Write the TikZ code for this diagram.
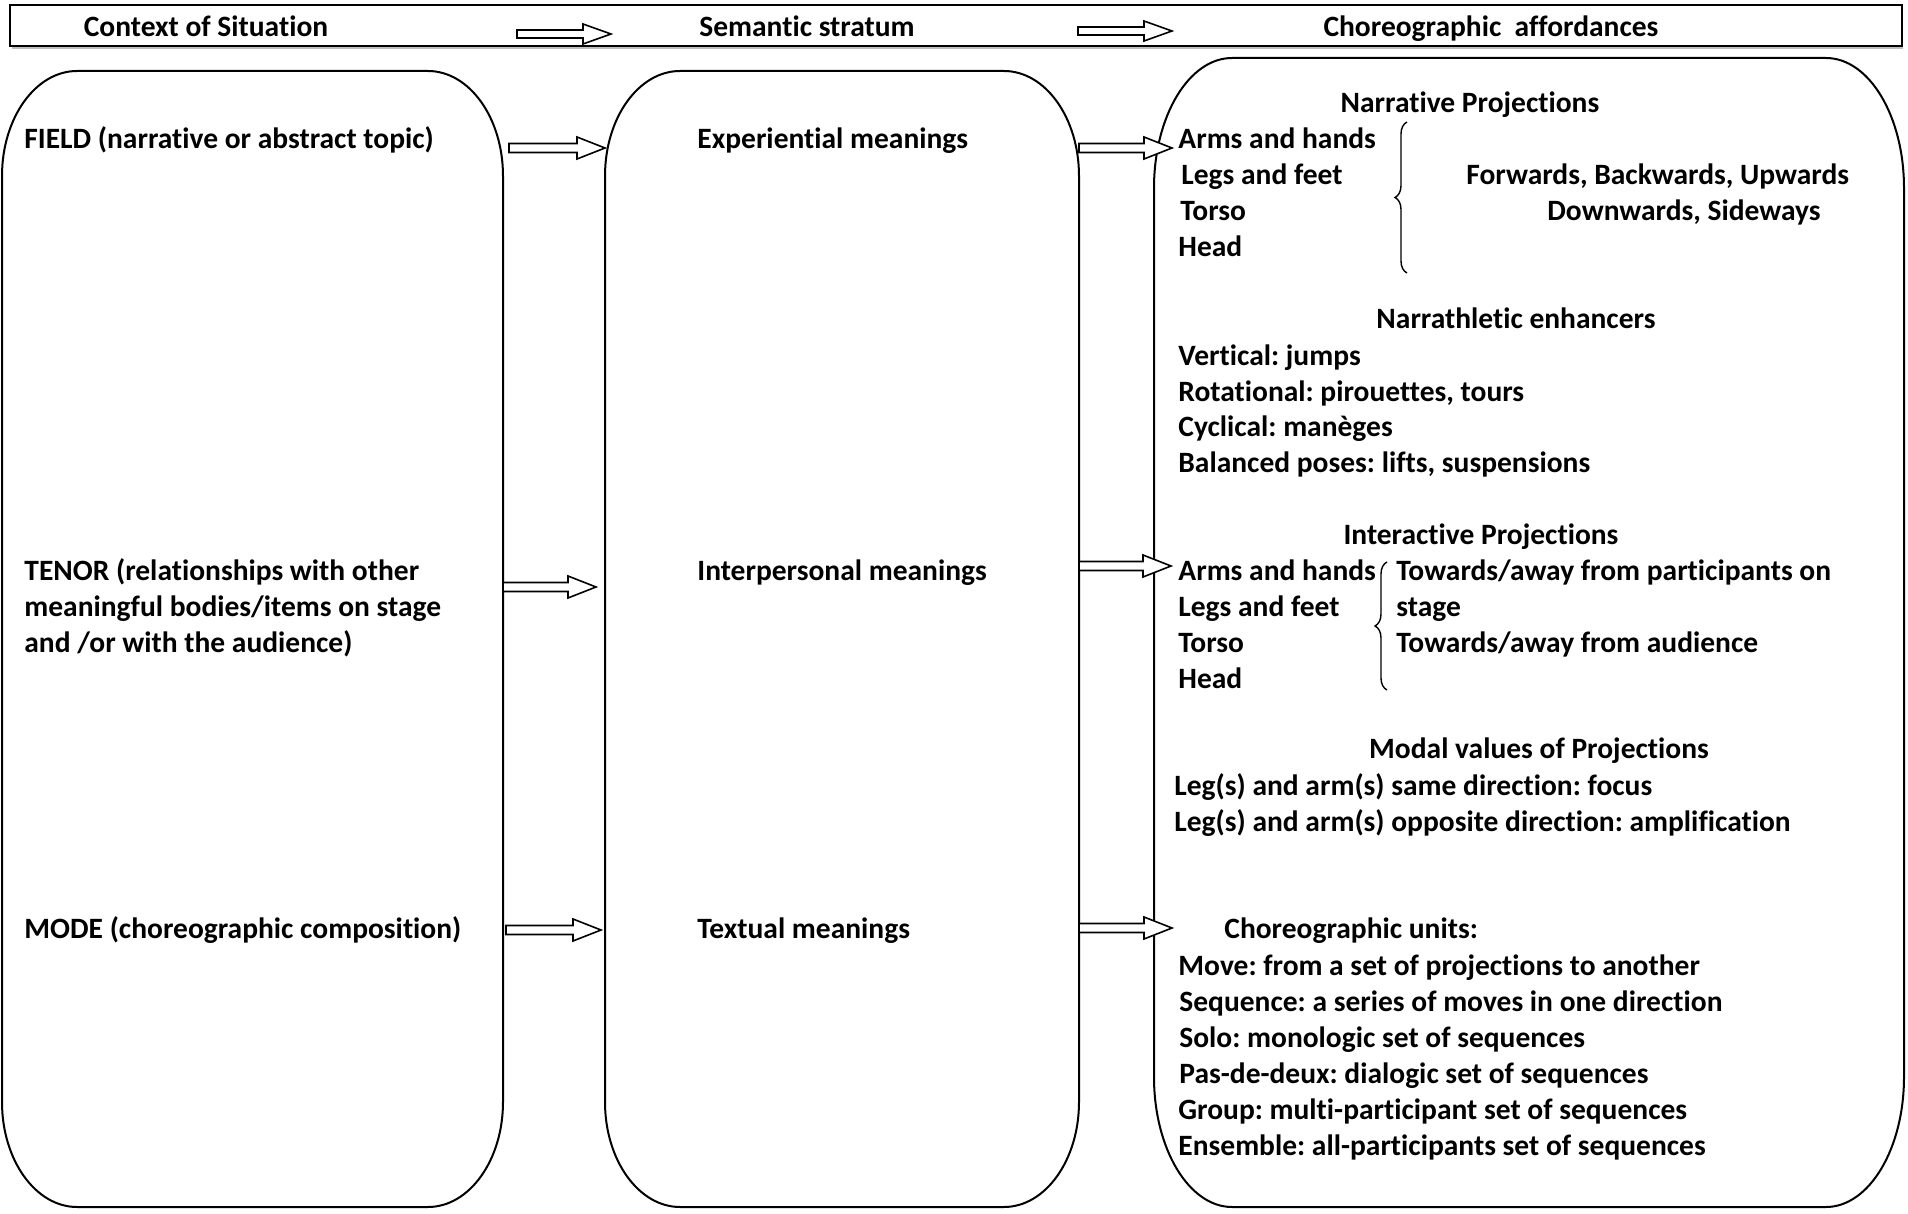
\documentclass[tikz,border=0pt]{standalone}
\usepackage{fontspec}
\setmainfont{Carlito}[Ligatures=NoCommon]
\frenchspacing
\usetikzlibrary{calc,decorations.pathreplacing}

\tikzset{
  texte/.style={anchor=base west, inner sep=0pt, yshift=-1.5pt},
  titre/.style={anchor=base, inner sep=0pt, yshift=-1.5pt},
  cadre/.style={draw=black, line width=1pt},
  fleche/.style={draw=black, fill=white, line width=0.8pt},
  accolade/.style={draw=black, line width=0.7pt, decorate, decoration={brace, amplitude=6pt}},
}

% fleche creuse : depart, arrivee, demi-epaisseur, demi-hauteur de la tete, longueur de la tete
\newcommand{\flechecreuse}[5]{%
  \filldraw[fleche] ($(#1)+(0,-#3)$) -- ($(#2)+(-#5,-#3)$) -- ($(#2)+(-#5,-#4)$) -- (#2)
    -- ($(#2)+(-#5,#4)$) -- ($(#2)+(-#5,#3)$) -- ($(#1)+(0,#3)$) -- cycle;}

% cadre a coins arrondis : gauche, haut, droite, bas, rayon x, rayon y
\newcommand{\cadrearrondi}[6]{%
  \draw[cadre] (#1+#5,#2) -- (#3-#5,#2) arc[start angle=270, end angle=360, x radius=#5, y radius=#6]
    -- (#3,#4-#6) arc[start angle=0, end angle=90, x radius=#5, y radius=#6]
    -- (#1+#5,#4) arc[start angle=90, end angle=180, x radius=#5, y radius=#6]
    -- (#1,#2+#6) arc[start angle=180, end angle=270, x radius=#5, y radius=#6] -- cycle;}

\begin{document}
\begin{tikzpicture}[x=0.5pt, y=-0.5pt, every node/.style={font=\fontsize{14.75}{18}\selectfont\bfseries}]
\useasboundingbox (0,0) rectangle (1908,1214);

% la barre du haut
\draw[gray!50, line width=1.2pt] (12,48) -- (1903,48);%ombre
\draw[cadre, line width=0.8pt, fill=white] (10,5) rectangle (1902,46);
\node[titre] (ctx) at (206,34) {Context of Situation};
\node[titre] (sem) at (807,34) {Semantic stratum};
\node[titre] (aff) at (1491,34) {Choreographic~ affordances};

\coordinate (haut_a_g) at (517,34);
\coordinate (haut_a_d) at (611,34);
\coordinate (haut_b_g) at (1078,31);
\coordinate (haut_b_d) at (1172,31);
\flechecreuse{haut_a_g}{haut_a_d}{4}{10}{28}
\flechecreuse{haut_b_g}{haut_b_d}{4}{10}{28}

% les trois cadres
\cadrearrondi{2}{71}{503}{1207}{75}{105}%contexte
\cadrearrondi{605}{71}{1079}{1207}{75}{105}%semantique
\cadrearrondi{1154}{58}{1904}{1207}{78}{130}%affordances

% cadre de gauche
\node[texte] (field) at (24,146) {FIELD (narrative or abstract topic)};
\node[texte] (tenor_a) at (24,577) {TENOR (relationships with other};
\node[texte] (tenor_b) at (24,613) {meaningful bodies/items on stage};
\node[texte] (tenor_c) at (24,649) {and /or with the audience)};
\node[texte] (mode) at (24,935) {MODE (choreographic composition)};

% cadre du milieu
\node[texte] (exp) at (697,146) {Experiential meanings};
\node[texte] (inter) at (697,577) {Interpersonal meanings};
\node[texte] (textual) at (697,935) {Textual meanings};

% cadre de droite : projections narratives
\node[titre] (narr) at (1470,110) {Narrative Projections};
\node[texte] (narr_bras) at (1178,146) {Arms and hands};
\node[texte] (narr_jambes) at (1181,182) {Legs and feet};
\node[texte] (narr_torse) at (1180,218) {Torso};
\node[texte] (narr_tete) at (1178,254) {Head};
\draw[accolade] (1407,273) -- (1407,122);
\node[texte] (narr_dir_a) at (1466,182) {Forwards, Backwards, Upwards};
\node[texte] (narr_dir_b) at (1547,218) {Downwards, Sideways};

% enhancers
\node[titre] (enh) at (1516,326) {Narrathletic enhancers};
\node[texte] (enh_a) at (1178,362) {Vertical: jumps};
\node[texte] (enh_b) at (1178,398) {Rotational: pirouettes, tours};
\node[texte] (enh_c) at (1178,434) {Cyclical: manèges};
\node[texte] (enh_d) at (1178,470) {Balanced poses: lifts, suspensions};

% projections interactives
\node[titre] (inte) at (1481,541) {Interactive Projections};
\node[texte] (inte_bras) at (1178,577) {Arms and hands};
\node[texte] (inte_jambes) at (1178,613) {Legs and feet};
\node[texte] (inte_torse) at (1178,649) {Torso};
\node[texte] (inte_tete) at (1178,685) {Head};
\draw[accolade] (1387,690) -- (1387,562);
\node[texte] (inte_dir_a) at (1396,577) {Towards/away from participants on};
\node[texte] (inte_dir_b) at (1396,613) {stage};
\node[texte] (inte_dir_c) at (1396,649) {Towards/away from audience};

% valeurs modales
\node[titre] (modal) at (1539,755) {Modal values of Projections};
\node[texte] (modal_a) at (1174,792) {Leg(s) and arm(s) same direction: focus};
\node[texte] (modal_b) at (1174,828) {Leg(s) and arm(s) opposite direction: amplification};

% unites choregraphiques
\node[texte] (units) at (1224,935) {Choreographic units:};
\node[texte] (unit_a) at (1178,972) {Move: from a set of projections to another};
\node[texte] (unit_b) at (1179,1008) {Sequence: a series of moves in one direction};
\node[texte] (unit_c) at (1179,1044) {Solo: monologic set of sequences};
\node[texte] (unit_d) at (1179,1080) {Pas-de-deux: dialogic set of sequences};
\node[texte] (unit_e) at (1178,1116) {Group: multi-participant set of sequences};
\node[texte] (unit_f) at (1178,1152) {Ensemble: all-participants set of sequences};

% les fleches entre les cadres
\coordinate (field_g) at (509,148);
\coordinate (field_d) at (605,148);
\coordinate (exp_g) at (1079,148);
\coordinate (exp_d) at (1172,148);
\coordinate (tenor_g) at (503,587);
\coordinate (tenor_d) at (596,587);
\coordinate (inter_g) at (1079,566);
\coordinate (inter_d) at (1171,566);
\coordinate (mode_g) at (506,930);
\coordinate (mode_d) at (601,930);
\coordinate (text_g) at (1079,928);
\coordinate (text_d) at (1172,928);
\flechecreuse{field_g}{field_d}{4.5}{11}{28}
\flechecreuse{exp_g}{exp_d}{4.5}{11}{28}
\flechecreuse{tenor_g}{tenor_d}{4.5}{11}{28}
\flechecreuse{inter_g}{inter_d}{4.5}{11}{28}
\flechecreuse{mode_g}{mode_d}{4.5}{11}{28}
\flechecreuse{text_g}{text_d}{4.5}{11}{28}

\end{tikzpicture}
\end{document}
